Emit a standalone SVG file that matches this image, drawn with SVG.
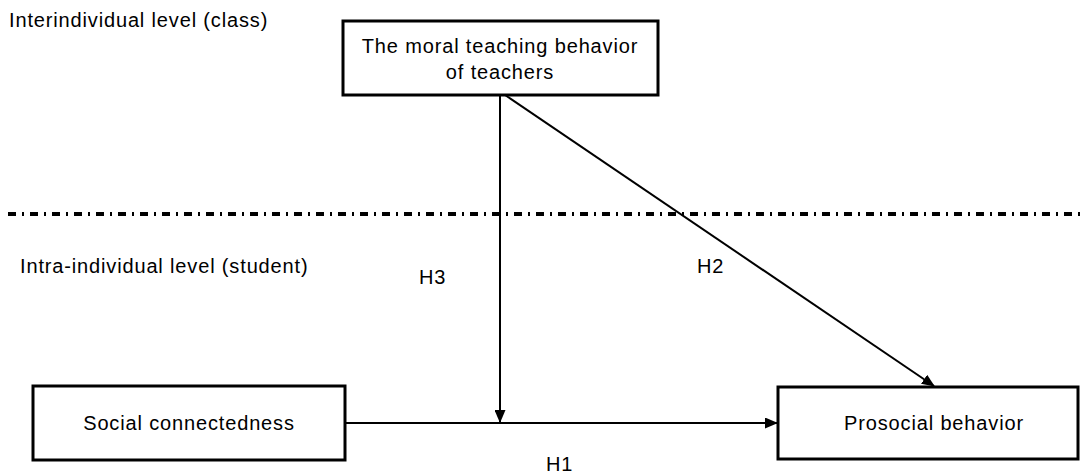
<svg xmlns="http://www.w3.org/2000/svg" width="1081" height="474" viewBox="0 0 1081 474">
<style>
.box{fill:#fff;stroke:#000;stroke-width:3}
.t{font-family:"Liberation Sans",Arial,sans-serif;font-size:20px;letter-spacing:0.85px;fill:#000}
.c{text-anchor:middle}
.ln{stroke:#000;stroke-width:2;fill:none}
</style>
<defs>
<marker id="ah" markerWidth="13" markerHeight="11" refX="12" refY="5.5" orient="auto" markerUnits="userSpaceOnUse">
<path d="M0,0 L13,5.5 L0,11 Z" fill="#000"/>
</marker>
</defs>
<rect width="1081" height="474" fill="#fff"/>
<text class="t" x="9" y="27">Interindividual level (class)</text>
<text class="t" x="20" y="273">Intra-individual level (student)</text>
<line x1="8" y1="214" x2="1081" y2="214" stroke="#000" stroke-width="4" stroke-dasharray="8 6 2 6"/>
<g id="connectors">
<line class="ln" x1="500" y1="95" x2="500" y2="422" marker-end="url(#ah)"/>
<line class="ln" x1="505" y1="95" x2="934" y2="386" marker-end="url(#ah)"/>
<line class="ln" x1="345" y1="423" x2="777" y2="423" marker-end="url(#ah)"/>
<text class="t" x="419" y="284">H3</text>
<text class="t" x="697" y="273">H2</text>
<text class="t" x="546" y="471">H1</text>
</g>
<g id="n-teacher">
<rect class="box" x="343" y="21" width="315" height="74"/>
<text class="t c" x="500" y="53">The moral teaching behavior</text>
<text class="t c" x="500" y="79">of teachers</text>
</g>
<g id="n-social">
<rect class="box" x="33" y="386" width="312" height="74"/>
<text class="t c" x="189" y="430">Social connectedness</text>
</g>
<g id="n-prosocial">
<rect class="box" x="778" y="387" width="300" height="72"/>
<text class="t c" x="934" y="430">Prosocial behavior</text>
</g>
</svg>
